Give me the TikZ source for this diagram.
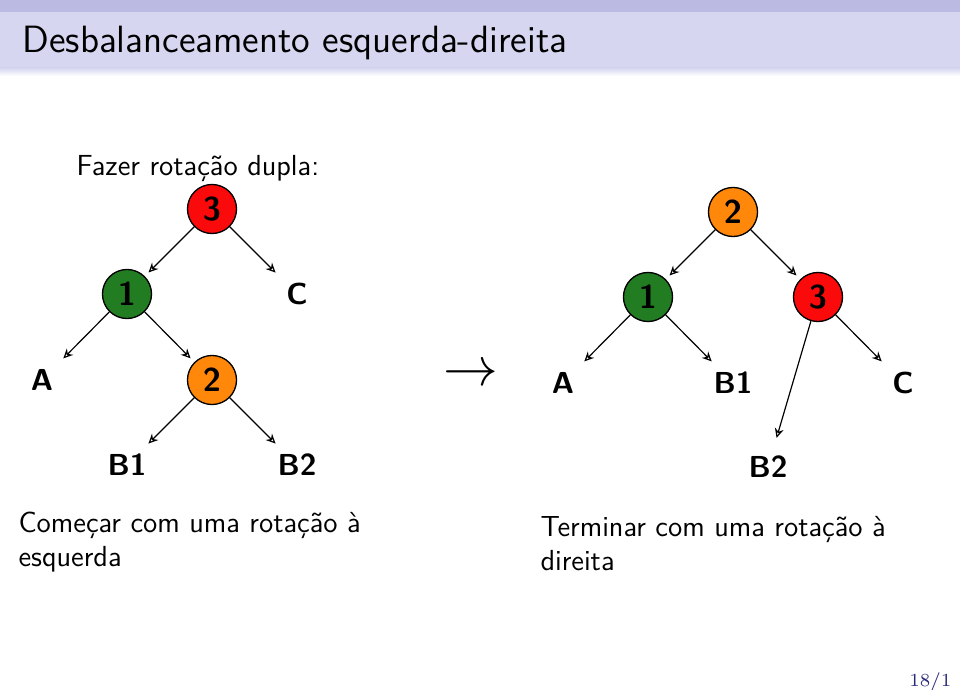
\documentclass[tikz,border=0pt]{standalone}
\usepackage{fontspec}
\usetikzlibrary{arrows.meta}
\renewcommand{\familydefault}{\sfdefault}
\definecolor{headtop}{RGB}{186,186,226}
\definecolor{headband}{RGB}{214,214,240}
\definecolor{nodered}{RGB}{250,10,10}
\definecolor{nodegreen}{RGB}{34,125,34}
\definecolor{nodeorange}{RGB}{255,135,10}
\definecolor{pagenum}{RGB}{40,40,120}
\tikzset{
  treenode/.style={circle,draw=black,line width=0.5pt,minimum size=18.6pt,inner sep=0pt,font=\fontsize{12.5}{14}\selectfont\bfseries},
  leaf/.style={circle,minimum size=18.6pt,inner sep=0pt,font=\fontsize{11.5}{13}\selectfont\bfseries},
  edge/.style={-{Stealth[open,length=3.6pt,width=3.4pt,inset=1.2pt]},line width=0.45pt,shorten >=2pt},
  bodytext/.style={anchor=base west,inner sep=0pt,font=\fontsize{11}{13}\selectfont}
}
\begin{document}
\begin{tikzpicture}[x=0.379pt,y=-0.379pt]
\useasboundingbox (0,0) rectangle (960,690);
\fill[white] (0,0) rectangle (960,690);
% header
\fill[headband] (0,12) rectangle (960,68);
\fill[headtop] (0,0) rectangle (960,12);
\shade[top color=headband,bottom color=white] (0,68) rectangle (960,76);
\node[anchor=base west,inner sep=0pt,font=\fontsize{14.4}{17}\selectfont] (title) at (22,53) {Desbalanceamento esquerda-direita};
% left tree
\node[bodytext] (intro) at (76,176) {Fazer rotação dupla:};
\node[treenode,fill=nodered] (l3) at (212,209) {3};
\node[treenode,fill=nodegreen] (l1) at (127,294) {1};
\node[leaf] (lC) at (297,294) {C};
\node[leaf] (lA) at (42,380) {A};
\node[treenode,fill=nodeorange] (l2) at (212,380) {2};
\node[leaf] (lB1) at (127,465) {B1};
\node[leaf] (lB2) at (297,465) {B2};
\draw[edge] (l3) -- (l1);
\draw[edge] (l3) -- (lC);
\draw[edge] (l1) -- (lA);
\draw[edge] (l1) -- (l2);
\draw[edge] (l2) -- (lB1);
\draw[edge] (l2) -- (lB2);
\node[bodytext] (lcap1) at (18,532) {Começar com uma rotação à};
\node[bodytext] (lcap2) at (18,566) {esquerda};
% arrow
\node[inner sep=0pt,font=\huge] (bigarrow) at (471,375) {$\rightarrow$};
% right tree
\node[treenode,fill=nodeorange] (r2) at (733,212) {2};
\node[treenode,fill=nodegreen] (r1) at (648,297) {1};
\node[treenode,fill=nodered] (r3) at (818,297) {3};
\node[leaf] (rA) at (563,383) {A};
\node[leaf] (rB1) at (733,383) {B1};
\node[leaf] (rC) at (903,383) {C};
\node[leaf] (rB2) at (768,467) {B2};
\draw[edge] (r2) -- (r1);
\draw[edge] (r2) -- (r3);
\draw[edge] (r1) -- (rA);
\draw[edge] (r1) -- (rB1);
\draw[edge] (r3) -- (rB2);
\draw[edge] (r3) -- (rC);
\node[bodytext] (rcap1) at (540,536) {Terminar com uma rotação à};
\node[bodytext] (rcap2) at (540,570) {direita};
% page number
\node[anchor=base east,inner sep=0pt,text=pagenum,font=\rmfamily\fontsize{7}{8}\selectfont] (page) at (952,686) {18/1};
\end{tikzpicture}
\end{document}
